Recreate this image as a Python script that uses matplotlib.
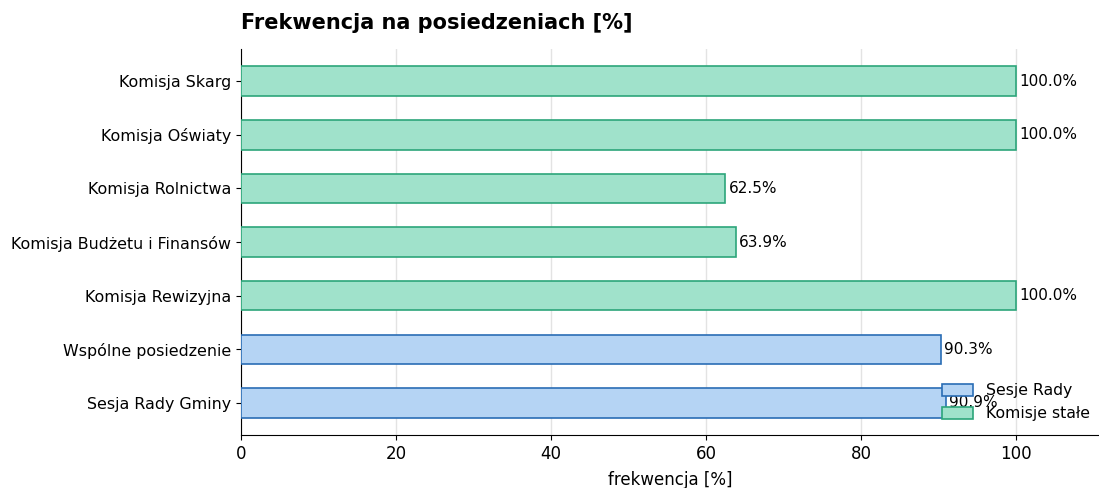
import matplotlib
matplotlib.use("Agg")
import matplotlib.pyplot as plt
from matplotlib.patches import Patch

categories = ["Sesja Rady Gminy", "Wspólne posiedzenie", "Komisja Rewizyjna",
              "Komisja Budżetu i Finansów", "Komisja Rolnictwa",
              "Komisja Oświaty", "Komisja Skarg"]
attendance = [90.9, 90.3, 100.0, 63.9, 62.5, 100.0, 100.0]
group = ["sesja", "sesja", "komisja", "komisja", "komisja", "komisja", "komisja"]

fill = {"sesja": "#b5d4f4", "komisja": "#a0e2cb"}
edge = {"sesja": "#2a6db5", "komisja": "#2ca57a"}

fig = plt.figure(figsize=(10.99, 4.88), dpi=100)
ax = fig.add_axes([0.2193, 0.108, 0.7807, 0.792])

pos = range(len(categories))
ax.barh(pos, attendance, height=0.55,
        color=[fill[g] for g in group],
        edgecolor=[edge[g] for g in group], linewidth=1.2, zorder=3)

for p, v in zip(pos, attendance):
    ax.text(v + 0.4, p, f"{v:.1f}%", va="center", ha="left", fontsize=11, zorder=4)

ax.set_yticks(list(pos))
ax.set_yticklabels(categories, fontsize=11.4)
ax.tick_params(axis="x", labelsize=12)
ax.set_xlim(0, 110.7)
ax.set_xlabel("frekwencja [%]", fontsize=12, labelpad=6)
ax.set_title("Frekwencja na posiedzeniach [%]", loc="left", fontsize=15,
             fontweight="bold", pad=14)
ax.grid(axis="x", color="#e3e3e3", linewidth=1, zorder=0)
ax.spines["top"].set_visible(False)
ax.spines["right"].set_visible(False)

handles = [Patch(facecolor=fill["sesja"], edgecolor=edge["sesja"], linewidth=1.2),
           Patch(facecolor=fill["komisja"], edgecolor=edge["komisja"], linewidth=1.2)]
ax.legend(handles, ["Sesje Rady", "Komisje stałe"], loc="lower right",
          frameon=False, fontsize=11.3, bbox_to_anchor=(1.006, 0.0),
          handleheight=0.8)

fig.savefig("out.png", dpi=100)
